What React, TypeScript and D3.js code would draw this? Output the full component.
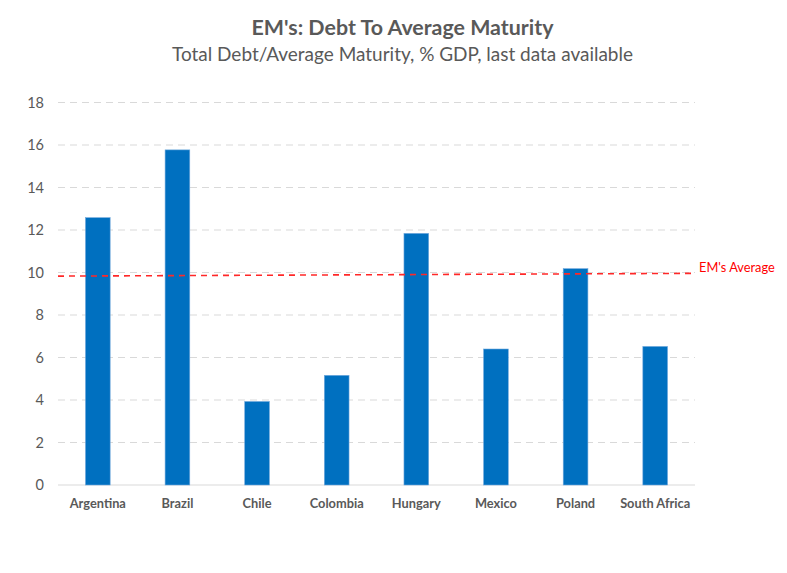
import React from "react";
import * as d3 from "d3";

const categories = ["Argentina", "Brazil", "Chile", "Colombia", "Hungary", "Mexico", "Poland", "South Africa"];
const values = [12.58, 15.77, 3.93, 5.16, 11.84, 6.4, 10.18, 6.52];
const yTicks = [0, 2, 4, 6, 8, 10, 12, 14, 16, 18];
const averageLine = [9.83, 9.96]; // start, end of the EM's average line
const averageLabel = "EM's Average";
const title = "EM's: Debt To Average Maturity";
const subtitle = "Total Debt/Average Maturity, % GDP, last data available";

const W = 787;
const H = 573;
const FONT = "Lato, 'Open Sans', 'Noto Sans', sans-serif";

export default function App() {
  const left = 58;
  const right = 695;
  const top = 102.5;
  const bottom = 485;

  const x = d3.scaleBand<string>().domain(categories).range([left, right]).paddingInner(0.69).paddingOuter(0.345);
  const y = d3.scaleLinear().domain([0, 18]).range([bottom, top]);
  const xl = d3.scaleLinear().domain([0, 1]).range([left, right]);
  const line = d3.line<number>().x((_, i) => xl(i)).y((d) => y(d));

  return (
    <svg width={W} height={H} style={{ position: "absolute", left: 0, top: 0, background: "#fff" }}>
      <rect x={0} y={0} width={W} height={H} fill="#fff" />
      <text
        x={402.5}
        y={35}
        textAnchor="middle"
        fontFamily={FONT}
        fontWeight={700}
        fontSize={20.5}
        fill="#595959"
        textLength={302}
        lengthAdjust="spacingAndGlyphs"
      >
        {title}
      </text>
      <text
        x={402.5}
        y={61}
        textAnchor="middle"
        fontFamily={FONT}
        fontSize={19.5}
        fill="#595959"
        textLength={461}
        lengthAdjust="spacingAndGlyphs"
      >
        {subtitle}
      </text>
      {yTicks.map((t) => (
        <g key={t}>
          {t > 0 && (
            <line x1={left} x2={right} y1={y(t)} y2={y(t)} stroke="#D9D9D9" strokeWidth={1} strokeDasharray="7,5" />
          )}
          <text x={44} y={y(t)} dy="0.36em" textAnchor="end" fontFamily={FONT} fontSize={14.5} fill="#595959">
            {t}
          </text>
        </g>
      ))}
      <line x1={left} x2={right} y1={bottom} y2={bottom} stroke="#D9D9D9" strokeWidth={1} />
      {categories.map((c, i) => (
        <g key={c}>
          <rect
            x={x(c)!}
            y={y(values[i])}
            width={x.bandwidth()}
            height={bottom - y(values[i])}
            fill="#0070C0"
            stroke="#6FA8DC"
            strokeWidth={0.6}
          />
          <text
            x={x(c)! + x.bandwidth() / 2}
            y={508}
            textAnchor="middle"
            fontFamily={FONT}
            fontWeight={700}
            fontSize={12.8}
            fill="#595959"
          >
            {c}
          </text>
        </g>
      ))}
      <path d={line(averageLine)!} fill="none" stroke="#FF2828" strokeWidth={1.6} strokeDasharray="6,5" />
      <text x={699} y={268} dy="0.35em" fontFamily={FONT} fontSize={12.8} fill="#FF0000">
        {averageLabel}
      </text>
    </svg>
  );
}
